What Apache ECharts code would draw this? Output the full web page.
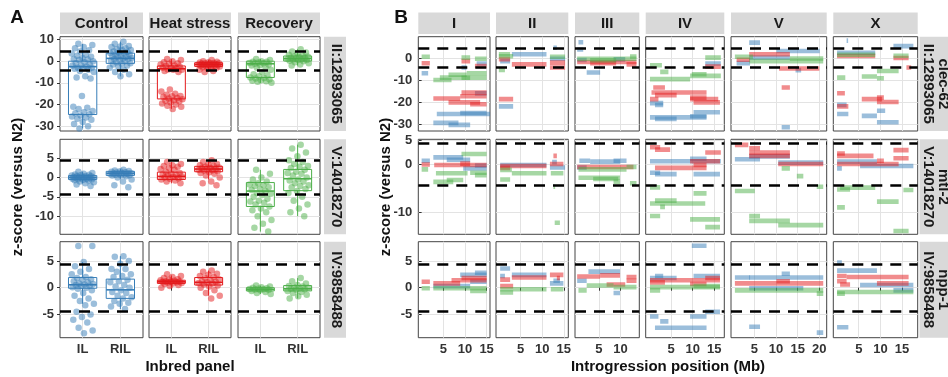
<!DOCTYPE html>
<html>
<head>
<meta charset="utf-8">
<script src="https://cdn.jsdelivr.net/npm/echarts@6/dist/echarts.min.js"></script>
<style>
  html, body { margin: 0; padding: 0; background: #fff; }
  #chart { width: 948px; height: 377px; }
</style>
</head>
<body>
<div id="chart"></div>
<script>
// ---- categorias ----
const panels = ["IL", "RIL"];
const conditions = ["Control", "Heat stress", "Recovery"];
const markers = ["II:12893065", "V:14018270", "IV:9858488"];
const geneNames = ["clec-62", "mtl-2", "npp-1"];
const chromosomes = ["I", "II", "III", "IV", "V", "X"];
const threshold = 4.4;

// ---- ticks ----
const yTicksA = [[10, 0, -10, -20, -30], [5, 0, -5, -10], [5, 0, -5]];
const yTicksB = [[0, -10, -20, -30], [5, 0, -10], [5, 0, -5]];
const yRangeA = [[-32.2, 11.3], [-14.7, 9.9], [-9.35, 8.6]];
const yRangeB = [[-33.2, 9.7], [-14.5, 5.25], [-9.35, 8.6]];
const xTicksB = [[5, 10, 15], [5, 10, 15], [5, 10], [5, 10, 15], [5, 10, 15, 20], [5, 10, 15]];
const xRangeB = [[-0.77, 15.78], [-0.66, 16.04], [-0.5, 14.35], [-0.84, 17.3], [-0.4, 21.7], [-0.87, 18.6]];

// ---- Panel A: z-scores por linea (IL / RIL) ----
const clecControlIL = [8, 7.5, 6.5, 6, 5, 4.5, 3.5, 3, 2.5, 2, 1.5, 1, 0.8, 0.5, 0, -0.5, -1, -1.5, -2, -2, -2.5, -3, -3, -3.2, -3.5, -4, -4.5, -5, -7, -7.5, -8, -16, -21, -21.5, -22, -23, -23.5, -24, -24.5, -25, -25.5, -26, -26.5, -27, -28, -29, -30, -31];
const clecControlRIL = [9, 8, 7, 6.8, 6.5, 6, 5.5, 5.2, 5, 4.5, 4.2, 4, 3.8, 3.5, 3, 3, 2.5, 2.2, 2, 2, 1.5, 1.2, 1, 1, 0.5, 0.2, 0, -0.5, -1, -1.2, -1.5, -2, -2.5, -3, -4, -5, -6, -7];
const clecHeatIL = [1, 0.5, 0, -0.5, -1, -1.2, -1.5, -2, -2.2, -2.5, -3, -3, -3.5, -3.8, -4, -4, -4.5, -5, -13, -14, -15, -15.5, -16, -16.2, -16.5, -17, -17.2, -17.5, -18, -18.2, -18.5, -19, -19.5, -20, -20.5, -21, -22];
const clecHeatRIL = [0.5, 0, -0.3, -0.5, -0.6, -0.8, -0.9, -1, -1.1, -1.2, -1.3, -1.5, -1.5, -1.6, -1.7, -1.8, -1.9, -2, -2.1, -2.2, -2.4, -2.7, -2.8, -3, -3.5, -4, -4.5, -5];
const clecRecIL = [1, 0.5, 0, -0.2, -0.3, -0.6, -0.8, -1, -1.2, -1.5, -1.8, -2, -2.5, -3, -4, -5, -6, -6.5, -7, -7.5, -7.8, -8, -8.5, -8.8, -9, -9.2, -9.5, -10];
const clecRecRIL = [5.5, 4.5, 4, 3.5, 3, 2.5, 2.2, 2, 1.8, 1.6, 1.5, 1.2, 1, 0.9, 0.8, 0.6, 0.5, 0.2, 0, -0.5, -1, -1.5, -2];

const mtlControlIL = [1.5, 1.2, 1, 0.8, 0.7, 0.6, 0.5, 0.4, 0.3, 0.3, 0.2, 0.15, 0.1, 0.05, 0, 0, -0.05, -0.1, -0.2, -0.3, -0.3, -0.4, -0.5, -0.6, -0.7, -0.8, -1, -1.2, -1.5, -1.8, -2.2];
const mtlControlRIL = [2, 1.8, 1.7, 1.6, 1.5, 1.4, 1.3, 1.2, 1.1, 1, 1, 0.9, 0.9, 0.8, 0.7, 0.6, 0.6, 0.5, 0.3, 0, -0.5, -1, -2, -2.5];
const mtlHeatIL = [4, 3.5, 3.2, 3, 2.8, 2.5, 2.2, 2, 1.5, 1.2, 1, 0.8, 0.6, 0.5, 0.3, 0.2, 0, -0.2, -0.3, -0.5, -0.8, -1, -1.5];
const mtlHeatRIL = [4.5, 4, 3.5, 3.3, 3.2, 3, 2.8, 2.6, 2.5, 2.4, 2.2, 2.1, 2, 1.9, 1.8, 1.6, 1.4, 1.2, 1, 0.5, 0, -1, -1.5, -2];
const mtlRecIL = [2, 1, 0, -0.5, -1, -1.5, -1.8, -2, -2.2, -2.5, -3, -3.2, -3.5, -4, -4.2, -4.5, -5, -5.5, -6, -6.2, -6.5, -7, -7.5, -8, -8.5, -9, -10, -11, -12, -13, -14];
const mtlRecRIL = [8.5, 7.5, 6.5, 5.5, 4.5, 4, 3.5, 3, 2.8, 2.5, 2, 1.5, 1.2, 1, 0.5, 0, -0.5, -0.8, -1, -1.5, -2, -2.2, -2.5, -3, -3.5, -4, -5, -6, -7, -8, -9, -10];

const nppControlIL = [7.8, 7.8, 4.8, 4, 3.5, 3, 2.5, 2, 1.8, 1.6, 1.5, 1.2, 1, 0.8, 0.7, 0.6, 0.5, 0.4, 0.3, 0.1, 0, -0.2, -0.5, -1, -1.5, -2, -2.5, -3, -3.3, -4.5, -5, -5.5, -6, -6.5, -7.5, -8, -8.5];
const nppControlRIL = [5.9, 5.8, 5, 4.5, 3.5, 3.5, 3, 2.5, 2.2, 2, 1.5, 1.2, 1, 0.5, 0.2, 0, -0.5, -0.8, -1, -1.5, -1.8, -2, -2.5, -2.8, -3, -3.5, -4];
const nppHeatIL = [2.5, 2.2, 2, 1.8, 1.6, 1.5, 1.4, 1.3, 1.2, 1.15, 1.1, 1.05, 1, 0.95, 0.9, 0.8, 0.7, 0.5, 0.3, 0];
const nppHeatRIL = [3.2, 3, 2.6, 2.4, 2.2, 2, 1.8, 1.6, 1.4, 1.2, 1.1, 1, 0.9, 0.8, 0.6, 0.4, 0.2, 0, -0.5, -1, -1.5, -2];
const nppRecIL = [0.4, 0.2, 0.1, 0, -0.1, -0.2, -0.25, -0.3, -0.35, -0.4, -0.5, -0.6, -0.8, -1, -1.2];
const nppRecRIL = [1.8, 1.2, 0.8, 0.5, 0.3, 0.2, 0.1, 0, -0.1, -0.2, -0.3, -0.4, -0.6, -0.8, -1, -1.3, -1.6, -2];

// cajas: [min, q1, mediana, q3, max] para IL y RIL
const clecControlBox = [[-31, -24.6, -2.5, 0, 8], [-7, -1, 1.3, 3.7, 9]];
const clecHeatBox = [[-22, -17.4, -3.5, -2.2, 1], [-5, -2.4, -1.5, -0.7, 0.5]];
const clecRecBox = [[-10, -7.5, -1.2, 0, 1], [-2, 0.1, 1.2, 2.4, 5.5]];
const mtlControlBox = [[-1.5, -0.5, 0, 0.5, 1.5], [-0.3, 0.55, 1.1, 1.6, 2.2]];
const mtlHeatBox = [[-1.5, -0.5, 0.3, 1.4, 4], [-0.5, 1.5, 2.2, 2.9, 4.5]];
const mtlRecBox = [[-14, -7.5, -3.5, -1.3, 2], [-10, -3.4, -0.3, 2.1, 8.5]];
const nppControlBox = [[-3, -0.1, 0.55, 1.9, 4.8], [-4, -2, -0.4, 1.6, 5.9]];
const nppHeatBox = [[0, 0.8, 1.1, 1.4, 2.3], [-1.5, 0.5, 1, 1.9, 3.2]];
const nppRecBox = [[-1.2, -0.6, -0.3, 0, 0.4], [-2, -0.6, -0.2, 0.4, 1.8]];

// ---- Panel B: introgresiones [cromosoma, inicio Mb, fin Mb, z-score] ----
const clecControlSeg = [
  ["I", 0, 1.5, -6.9], ["I", 12.7, 15, -2.5], ["I", 9.2, 10.4, -4.3], ["I", 12.3, 15, -16.1], ["I", 3.5, 15.8, -25.5], ["I", 8.9, 15, -25], ["I", 2.7, 8.5, -29.5], ["I", 6.2, 11.2, -30.4],
  ["II", 0.3, 2.6, -1.4], ["II", 3, 11, 1.7], ["II", 0, 3.3, -22], ["II", 12.6, 13.4, 4.7], ["II", 11.8, 15.3, -0.3],
  ["III", 0.3, 1.4, 7.2], ["III", 0, 1.4, 3.9], ["III", 0, 2.2, -0.9], ["III", 8.4, 11.1, -0.6], ["III", 2.2, 5.3, -6.6],
  ["IV", 12.9, 16.5, -2.5], ["IV", 0.15, 3.2, -20.5], ["IV", 1.3, 3.2, -21.4], ["IV", 0.15, 13.2, -27], ["IV", 10.2, 16.3, -24.7], ["IV", 9.4, 13.2, -26.5], ["IV", 1.3, 6.3, -27.7],
  ["V", 3.8, 6.3, 7], ["V", 3.8, 13.2, 0.2], ["V", 0.9, 4, -2.3], ["V", 10.1, 20.1, 3.2], ["V", 14.5, 15.8, -5.5], ["V", 11.3, 13.2, -31.5],
  ["X", 2.2, 2.4, 7.9], ["X", 0, 8.8, 2.4], ["X", 13, 17.6, 5.4], ["X", 0, 2.2, -21.3], ["X", 0, 2.6, -25.5], ["X", 5.7, 9.2, -26.3], ["X", 9.2, 14.2, -29.2], ["X", 9.2, 11.1, -24]
];
const clecHeatSeg = [
  ["I", 0, 1.9, -2.4], ["I", 9.2, 11.2, -1.4], ["I", 12.3, 15, -3.6], ["I", 2.7, 8.9, -18.4], ["I", 8.9, 15, -17.4], ["I", 6.2, 13.5, -20.2], ["I", 9.2, 15, -15.7], ["I", 11.2, 15, -21],
  ["II", 0, 2.6, -0.5], ["II", 3, 11, -2.9], ["II", 0, 3.3, -18.7], ["II", 11.8, 15.3, -2.1], ["II", 11.8, 15.3, -4.3],
  ["III", 0, 13.7, -1.8], ["III", 11.4, 13.7, -2.9], ["III", 3, 9, -2.3],
  ["IV", 12.9, 16.5, -3.9], ["IV", 0.9, 3.6, -13.4], ["IV", 0.5, 13.2, -15.7], ["IV", 1.3, 6.3, -16.9], ["IV", 0.15, 2.1, -18.7], ["IV", 9.4, 15.9, -18.7], ["IV", 10.2, 16.3, -20.2], ["IV", 9.4, 13.2, -18],
  ["V", 3.8, 13.2, 1.7], ["V", 0.9, 4, -0.8], ["V", 10.7, 20, -4.8], ["V", 11.3, 13.2, -13.4],
  ["X", 0, 8.8, 0.9], ["X", 13, 16.5, 0], ["X", 16, 17.1, -4.3], ["X", 0, 1.8, -16], ["X", 5.7, 10.4, -18.7], ["X", 9.2, 14.2, -20], ["X", 9.2, 10.8, -18], ["X", 0, 2.6, -22]
];
const clecRecSeg = [
  ["I", 0, 1.9, 0.6], ["I", 9.2, 11.2, 0.2], ["I", 12.3, 15, -0.3], ["I", 2.7, 6.9, -10], ["I", 4.2, 15, -8.9], ["I", 6.2, 10.4, -7.6], ["I", 10.4, 15, -6.9], ["I", 9.2, 11.2, -9],
  ["II", 0, 2.6, 1.7], ["II", 0, 3.3, 0.8], ["II", 0, 1.4, -5.4], ["II", 11.8, 15.3, 0.6],
  ["III", 0, 13.7, -0.3], ["III", 12.2, 13.7, 0.7], ["III", 3, 9, -1],
  ["IV", 12.9, 16.5, 0.2], ["IV", 0.15, 2.9, -3.3], ["IV", 2.5, 4.4, -6.3], ["IV", 0.15, 9.4, -9.6], ["IV", 9.4, 16.5, -8.1], ["IV", 9.8, 13.2, -7.4],
  ["V", 0.5, 4.7, 0.6], ["V", 3.8, 20.9, -1.4], ["V", 13.2, 20.9, -0.2],
  ["X", 0, 8.8, 1.5], ["X", 13, 16.5, 1], ["X", 9.2, 14.2, -5.9], ["X", 5.7, 9.2, -8.4], ["X", 0, 1.9, -8.9], ["X", 9.2, 10.8, -9.2]
];
const mtlControlSeg = [
  ["I", 0, 1.9, 0.8], ["I", 2.7, 9.6, 1.5], ["I", 5.8, 11.2, 1], ["I", 9.6, 15, -0.8], ["I", 12.3, 15, -0.2],
  ["II", 0.3, 11, -0.1], ["II", 11.8, 15.3, -0.6], ["II", 12.3, 13.4, 0.5],
  ["III", 0.5, 3, 0.8], ["III", 3, 9.9, 0.6], ["III", 8.4, 11.4, 0.8], ["III", 0, 2.2, -0.6],
  ["IV", 0.15, 16.5, 0.7], ["IV", 9.4, 13.2, 1.2], ["IV", 0.15, 2.5, -1.7], ["IV", 1.3, 6.3, -2], ["IV", 10.2, 16.3, -2],
  ["V", 0.5, 6.3, 1.1], ["V", 3.8, 13.2, 1.7], ["V", 10.5, 20.9, 0.4],
  ["X", 0, 9.2, 0.6], ["X", 5.3, 17.6, -0.3], ["X", 0, 1.1, -0.8]
];
const mtlHeatSeg = [
  ["I", 0, 1.9, 0], ["I", 2.9, 15, -0.1], ["I", 8.9, 11.2, 0.2],
  ["II", 0.3, 11, -0.3], ["II", 0.3, 2.6, -0.7], ["II", 12.6, 13.4, 1.8], ["II", 11.8, 14.9, 0.1],
  ["III", 0, 13, -0.5],
  ["IV", 0.15, 2.5, 3.6], ["IV", 1.3, 4.8, 3.1], ["IV", 12.9, 16.5, 2.5], ["IV", 1.3, 13.2, -0.7], ["IV", 10.2, 13.2, -0.1], ["IV", 9.4, 16.3, 0.7],
  ["V", 0.5, 3.6, 4.1], ["V", 3.8, 6.3, 3.4], ["V", 3.8, 13.2, 2.5], ["V", 3.8, 13.2, 1.8], ["V", 10.5, 20.9, 0.1],
  ["X", 0, 1.8, 2.3], ["X", 0, 8.4, 1.8], ["X", 13, 16.5, 3], ["X", 13, 16.5, 1.3], ["X", 0, 14.2, 0.1], ["X", 9.2, 10.8, 0.8]
];
const mtlRecSeg = [
  ["I", 0, 1.5, -1], ["I", 9.2, 15, 2.2], ["I", 3.3, 10.6, -1.8], ["I", 11.2, 15, -1.7], ["I", 2.7, 7.3, -3.6], ["I", 5.8, 9.6, -3.2], ["I", 12.3, 15, -2.2],
  ["II", 0.3, 3, -1.1], ["II", 3, 11, -1.8], ["II", 0.3, 2.6, -3.1], ["II", 12, 14.9, -1.8], ["II", 12.6, 13, -4.6], ["II", 12.9, 14.1, -12.1],
  ["III", 0.3, 11.4, -1], ["III", 11.4, 13.7, -0.5], ["III", 0.3, 9.9, -2.75], ["III", 3.7, 9.5, -3], ["III", 8.4, 9.9, -3.6], ["III", 12.2, 13.7, -3.9],
  ["IV", 0.15, 2.5, -4.75], ["IV", 10.2, 13.2, -6], ["IV", 1.3, 6.3, -7.5], ["IV", 0.15, 12.9, -8.1], ["IV", 2.5, 3.6, -8.8], ["IV", 0.15, 2.5, -10.7], ["IV", 9.4, 16.3, -11.4], ["IV", 12.9, 16.3, -13],
  ["V", 11.3, 13.2, -0.8], ["V", 14.8, 16.3, -2.4], ["V", 0.5, 5.1, -5.5], ["V", 3.8, 6.3, -10.7], ["V", 3.8, 13.2, -11.7], ["V", 10.5, 20.9, -12.6], ["V", 19.4, 20.9, -4.6],
  ["X", 0, 3, -5.2], ["X", 0.7, 8.8, -4.8], ["X", 15.3, 17.6, -5.3], ["X", 9.2, 14.2, -7.7], ["X", 0, 1.8, -8.9], ["X", 13, 16.5, -13.8]
];
const nppControlSeg = [
  ["I", 8.9, 15, 2.4], ["I", 12.3, 15, 2.8], ["I", 2.7, 11.2, 0.3], ["I", 11.2, 15, 1.1],
  ["II", 0.3, 2.6, 3.6], ["II", 0.3, 1.4, 2.2], ["II", 3, 11, 2.4], ["II", 11.8, 14.9, 0.8], ["II", 12.6, 14.1, 1.3],
  ["III", 2.6, 9.9, 3], ["III", 0, 2.2, 1.3], ["III", 8.4, 9.9, -1],
  ["IV", 9.8, 13.2, 7.85], ["IV", 1.3, 3.2, 2.2], ["IV", 0.15, 6.3, 1.8], ["IV", 10.2, 16.3, 2.2], ["IV", 12.9, 16.3, -4.5], ["IV", 0.15, 2.1, -5.4], ["IV", 2.5, 4.4, -6.3], ["IV", 9.4, 13.2, -5.4], ["IV", 1.3, 13.2, -7.5],
  ["V", 0.5, 4, 1.9], ["V", 3.8, 20.9, 1.9], ["V", 11.3, 13.2, 2.6], ["V", 3.8, 16.3, -0.1], ["V", 3.8, 6.3, -7.3], ["V", 19.4, 20.9, -8.4],
  ["X", 0, 1.1, 4.7], ["X", 0, 9.2, 3.2], ["X", 5.3, 17.6, 0.5], ["X", 13, 17.6, -0.5], ["X", 0, 2.6, -7.4]
];
const nppHeatSeg = [
  ["I", 0, 1.9, 1.1], ["I", 2.7, 8.9, 0.8], ["I", 6.9, 15, 1.4], ["I", 9.2, 15, 1.8],
  ["II", 0.3, 2.6, 1.5], ["II", 3, 11, 1.9], ["II", 0.3, 3.3, 0.3], ["II", 11.8, 14.9, 2.4], ["II", 13.4, 14.1, 1.8],
  ["III", 0, 5.3, 2.1], ["III", 5.3, 9.9, 2.3], ["III", 6.8, 11.1, 0.6], ["III", 11.4, 13.7, 2], ["III", 11.4, 13.7, 1.3],
  ["IV", 0.15, 16.3, 1.4], ["IV", 0.15, 3.6, 1], ["IV", 9.4, 13.2, 0.7], ["IV", 12.9, 16.3, 1.8],
  ["V", 0.5, 20.9, 0.8], ["V", 10.1, 13.2, 1.2],
  ["X", 0, 2.2, 2.2], ["X", 0, 2.2, 1.2], ["X", 0.7, 3, 0.6], ["X", 2.2, 16.5, 2], ["X", 9.2, 16.5, 0.8]
];
const nppRecSeg = [
  ["I", 0, 1.9, -0.1], ["I", 2.7, 15, -0.1], ["I", 11.2, 15, -0.6],
  ["II", 0.3, 11, -0.3], ["II", 0.3, 3.3, -0.9], ["II", 12, 14.9, -0.3],
  ["III", 0.3, 2.2, -0.5], ["III", 2.2, 8.4, 0.4], ["III", 8.4, 13.7, 0.1],
  ["IV", 0.15, 16.3, 0.1], ["IV", 0.15, 2.5, -0.5], ["IV", 10.2, 16.3, 0.3],
  ["V", 0.5, 20.9, -0.5], ["V", 19.4, 20.9, -1.1],
  ["X", 0, 17.6, -0.8], ["X", 0, 1.8, -1.1]
];

// ---- agrupar por gen / condicion ----
const pointsA = [
  [[clecControlIL, clecControlRIL], [clecHeatIL, clecHeatRIL], [clecRecIL, clecRecRIL]],
  [[mtlControlIL, mtlControlRIL], [mtlHeatIL, mtlHeatRIL], [mtlRecIL, mtlRecRIL]],
  [[nppControlIL, nppControlRIL], [nppHeatIL, nppHeatRIL], [nppRecIL, nppRecRIL]]
];
const boxesA = [
  [clecControlBox, clecHeatBox, clecRecBox],
  [mtlControlBox, mtlHeatBox, mtlRecBox],
  [nppControlBox, nppHeatBox, nppRecBox]
];
const segsB = [
  [clecControlSeg, clecHeatSeg, clecRecSeg],
  [mtlControlSeg, mtlHeatSeg, mtlRecSeg],
  [nppControlSeg, nppHeatSeg, nppRecSeg]
];

const colors = ["#377EB8", "#E41A1C", "#4DAF4A"]; // azul, rojo, verde
const FONT = "Liberation Sans, Arial, Helvetica, sans-serif";

// ---- layout ----
const rowTop = [36.7, 139.3, 241.7];
const rowBottom = [131, 234.3, 337.7];
const colsA = [[60, 143], [149, 231], [238, 320]];
const colsB = [[418.3, 490], [496, 568.3], [575, 639.3], [645.7, 724.3], [731, 826.7], [833.3, 917.7]];

const grids = [], xAxes = [], yAxes = [], series = [];

const labelStyle = { fontSize: 13, fontWeight: "bold", color: "#333", fontFamily: FONT };
const tickStyle = { lineStyle: { color: "#333", width: 1 }, length: 3 };
const gridLine = { show: true, lineStyle: { color: "#e3e3e3", width: 1 } };

function addGrid(col, row, xOpt, yOpt, showX, showY) {
  grids.push({
    left: col[0], top: rowTop[row], width: col[1] - col[0], height: rowBottom[row] - rowTop[row],
    show: true, borderColor: "#444", borderWidth: 1, backgroundColor: "#fff"
  });
  const g = grids.length - 1;
  xAxes.push(Object.assign({
    gridIndex: g, type: "value", axisLine: { show: false },
    axisTick: Object.assign({ show: showX, customValues: xOpt.ticks }, tickStyle),
    axisLabel: Object.assign({ show: showX, customValues: xOpt.ticks, margin: 5 }, labelStyle, xOpt.label || {}),
    splitLine: gridLine
  }, { min: xOpt.min, max: xOpt.max }));
  yAxes.push({
    gridIndex: g, type: "value", min: yOpt.min, max: yOpt.max, axisLine: { show: false },
    axisTick: Object.assign({ show: showY, customValues: yOpt.ticks }, tickStyle),
    axisLabel: Object.assign({ show: showY, customValues: yOpt.ticks, margin: 6 }, labelStyle),
    splitLine: gridLine
  });
  return g;
}

const dashed = {
  silent: true, symbol: "none", label: { show: false }, animation: false,
  lineStyle: { color: "#000", type: [11, 8], width: 2.6 },
  data: [{ yAxis: threshold }, { yAxis: -threshold }]
};

function renderBox(color) {
  return function (params, api) {
    const x = api.value(0);
    const half = api.size([0.375, 0])[0];
    const pMin = api.coord([x, api.value(1)]);
    const pQ1 = api.coord([x, api.value(2)]);
    const pMed = api.coord([x, api.value(3)]);
    const pQ3 = api.coord([x, api.value(4)]);
    const pMax = api.coord([x, api.value(5)]);
    const cx = pMin[0];
    const st = { stroke: color, lineWidth: 1 };
    return {
      type: "group",
      children: [
        { type: "line", shape: { x1: cx, y1: pMax[1], x2: cx, y2: pQ3[1] }, style: st },
        { type: "line", shape: { x1: cx, y1: pQ1[1], x2: cx, y2: pMin[1] }, style: st },
        { type: "rect", shape: { x: cx - half, y: pQ3[1], width: 2 * half, height: pQ1[1] - pQ3[1] }, style: { fill: "#fff", stroke: color, lineWidth: 1 } },
        { type: "line", shape: { x1: cx - half, y1: pMed[1], x2: cx + half, y2: pMed[1] }, style: { stroke: color, lineWidth: 1.6 } }
      ]
    };
  };
}

function renderSeg(color) {
  return function (params, api) {
    const a = api.coord([api.value(0), api.value(2)]);
    const b = api.coord([api.value(1), api.value(2)]);
    return {
      type: "rect",
      shape: { x: a[0], y: a[1] - 2.3, width: Math.max(b[0] - a[0], 1.5), height: 4.6 },
      style: { fill: color, opacity: 0.5 }
    };
  };
}

// jitter horizontal determinista (solo posicion visual)
function jit(i) { return (((i * 0.6180339887 + 0.31) % 1) - 0.5) * 0.6; }

// ---- Panel A ----
for (let r = 0; r < 3; r++) {
  for (let c = 0; c < 3; c++) {
    const g = addGrid(colsA[c], r,
      { min: 0.4, max: 2.6, ticks: [1, 2], label: { formatter: (v) => panels[Math.round(v) - 1] } },
      { min: yRangeA[r][0], max: yRangeA[r][1], ticks: yTicksA[r] },
      r === 2, c === 0);
    const color = colors[c];
    series.push({
      type: "custom", xAxisIndex: g, yAxisIndex: g, z: 2, silent: true,
      data: boxesA[r][c].map((b, k) => [k + 1].concat(b)),
      encode: { x: 0, y: [1, 2, 3, 4, 5] },
      renderItem: renderBox(color)
    });
    const pts = [];
    pointsA[r][c].forEach((vals, k) => {
      vals.forEach((v, i) => pts.push([k + 1 + jit(i + k * 7), v]));
    });
    series.push({
      type: "scatter", xAxisIndex: g, yAxisIndex: g, z: 3, silent: true,
      symbolSize: 6.5, itemStyle: { color: color, opacity: 0.5 },
      data: pts, markLine: dashed
    });
  }
}

// ---- Panel B ----
for (let r = 0; r < 3; r++) {
  for (let c = 0; c < 6; c++) {
    const g = addGrid(colsB[c], r,
      { min: xRangeB[c][0], max: xRangeB[c][1], ticks: xTicksB[c] },
      { min: yRangeB[r][0], max: yRangeB[r][1], ticks: yTicksB[r] },
      r === 2, c === 0);
    for (let k = 0; k < 3; k++) {
      const data = segsB[r][k].filter((s) => s[0] === chromosomes[c]).map((s) => [s[1], s[2], s[3]]);
      const s = {
        type: "custom", xAxisIndex: g, yAxisIndex: g, z: 2 + k, silent: true, clip: true,
        data: data, encode: { x: [0, 1], y: 2 }, renderItem: renderSeg(colors[k])
      };
      if (k === 2) s.markLine = dashed;
      series.push(s);
    }
  }
}

// ---- strips y textos ----
const graphics = [];
const stripFill = "#D9D9D9";
const stripText = { fill: "#1a1a1a", fontSize: 15, fontWeight: "bold", fontFamily: FONT, align: "center", verticalAlign: "middle" };
function colStrip(col, text) {
  graphics.push({ type: "rect", shape: { x: col[0], y: 12.5, width: col[1] - col[0], height: 21.5 }, style: { fill: stripFill }, silent: true });
  graphics.push({ type: "text", x: (col[0] + col[1]) / 2, y: 23.5, style: Object.assign({ text: text }, stripText), silent: true });
}
conditions.forEach((t, i) => colStrip(colsA[i], t));
chromosomes.forEach((t, i) => colStrip(colsB[i], t));

for (let r = 0; r < 3; r++) {
  const cy = (rowTop[r] + rowBottom[r]) / 2;
  graphics.push({ type: "rect", shape: { x: 324, y: rowTop[r], width: 22, height: rowBottom[r] - rowTop[r] }, style: { fill: stripFill }, silent: true });
  graphics.push({ type: "text", x: 336, y: cy, rotation: -Math.PI / 2, style: Object.assign({ text: markers[r] }, stripText), silent: true });
  graphics.push({ type: "rect", shape: { x: 919.5, y: rowTop[r], width: 30, height: rowBottom[r] - rowTop[r] }, style: { fill: stripFill }, silent: true });
  graphics.push({ type: "text", x: 936, y: cy, rotation: -Math.PI / 2, style: Object.assign({ text: geneNames[r] + "\n" + markers[r], lineHeight: 15 }, stripText), silent: true });
}

const titleStyle = { fill: "#111", fontSize: 15, fontWeight: "bold", fontFamily: FONT, align: "center", verticalAlign: "middle" };
graphics.push({ type: "text", x: 17, y: 18, style: Object.assign({}, titleStyle, { text: "A", fontSize: 19 }) });
graphics.push({ type: "text", x: 401, y: 18, style: Object.assign({}, titleStyle, { text: "B", fontSize: 19 }) });
graphics.push({ type: "text", x: 190, y: 366.5, style: Object.assign({ text: "Inbred panel" }, titleStyle) });
graphics.push({ type: "text", x: 668, y: 366.5, style: Object.assign({ text: "Introgression position (Mb)" }, titleStyle) });
graphics.push({ type: "text", x: 18, y: 187, rotation: Math.PI / 2, style: Object.assign({ text: "z-score (versus N2)" }, titleStyle) });
graphics.push({ type: "text", x: 386, y: 187, rotation: Math.PI / 2, style: Object.assign({ text: "z-score (versus N2)" }, titleStyle) });

const chart = echarts.init(document.getElementById("chart"), null, { renderer: "canvas" });
chart.setOption({
  animation: false,
  backgroundColor: "#fff",
  grid: grids,
  xAxis: xAxes,
  yAxis: yAxes,
  series: series,
  graphic: graphics
});
</script>
</body>
</html>
